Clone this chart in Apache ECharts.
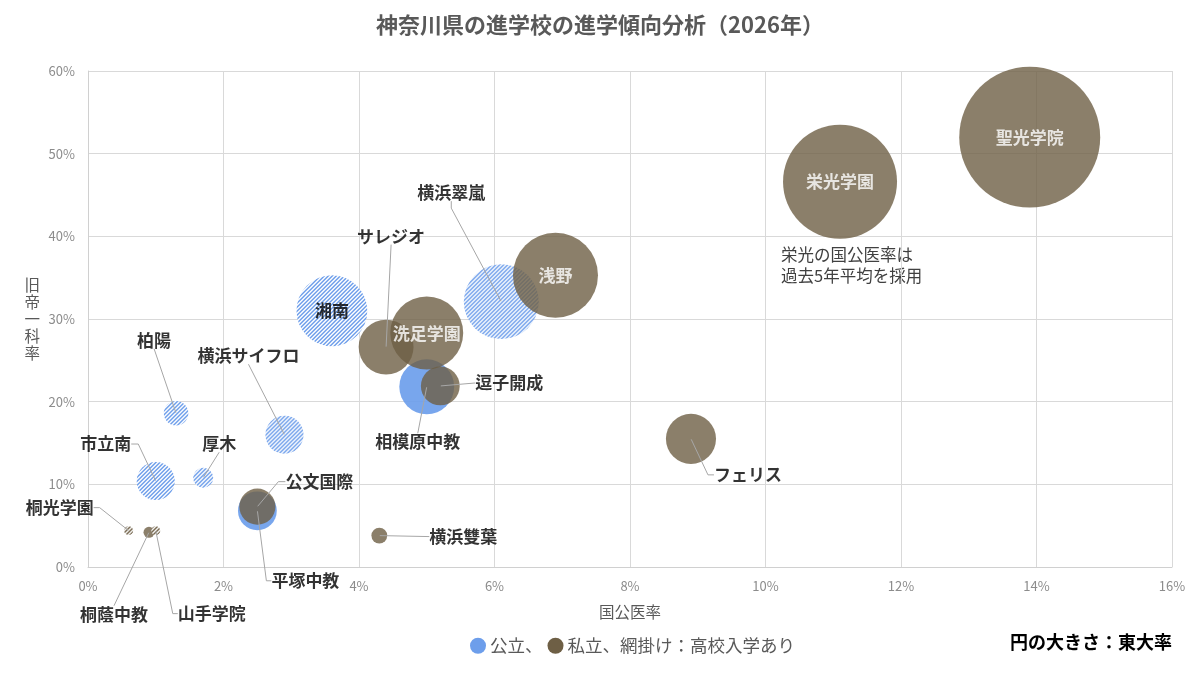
<!DOCTYPE html>
<html lang="ja">
<head>
<meta charset="utf-8">
<title>神奈川県の進学校の進学傾向分析</title>
<script src="https://cdn.jsdelivr.net/npm/echarts@6/dist/echarts.min.js"></script>
<style>
html, body { margin: 0; padding: 0; background: #fff; }
#chart { width: 1200px; height: 675px; }
</style>
</head>
<body>
<div id="chart"></div>
<script>
// 学校ごとのデータ（%）
const schools = ['聖光学院', '栄光学園', '浅野', '横浜翠嵐', '洗足学園', '湘南', 'サレジオ', '相模原中教', '逗子開成', 'フェリス',
    '平塚中教', '公文国際', '市立南', '横浜サイフロ', '柏陽', '厚木', '横浜雙葉', '桐蔭中教', '桐光学園', '山手学院']
const kokkoui = [13.9, 11.1, 6.9, 6.1, 5.0, 3.6, 4.4, 5.0, 5.2, 8.9, 2.5, 2.5, 1.0, 2.9, 1.3, 1.7, 4.3, 0.9, 0.6, 1.0]
const kyutei = [52.0, 46.6, 35.3, 32.1, 28.3, 31.0, 26.6, 21.8, 21.9, 15.5, 6.8, 7.3, 10.4, 16.0, 18.6, 10.8, 3.8, 4.2, 4.4, 4.4]
const todai = [39.6, 25.9, 14.4, 11.2, 10.6, 10.0, 6.0, 6.0, 3.0, 5.0, 3.0, 2.6, 2.9, 2.9, 1.2, 0.8, 0.5, 0.24, 0.16, 0.16]
const setchi = ['私立', '私立', '私立', '公立', '私立', '公立', '私立', '公立', '私立', '私立',
    '公立', '私立', '公立', '公立', '公立', '公立', '私立', '私立', '私立', '私立']
const koukouNyugaku = [false, false, false, true, false, true, false, false, false, false,
    false, false, true, true, true, true, false, false, true, true]
const xTicks = [0, 2, 4, 6, 8, 10, 12, 14, 16]
const yTicks = [0, 10, 20, 30, 40, 50, 60]

const BLUE = '#6d9eeb'
const BROWN = '#6e5f45'
const bubbleSize = v => 22.4 * Math.sqrt(v)

// ラベルの置き場所 [dx, dy, 引き出し線の横棒]
const labelPlace = {
    '聖光学院': { inside: '#fff' },
    '栄光学園': { inside: '#fff' },
    '浅野': { inside: '#fff' },
    '洗足学園': { inside: '#fff' },
    '湘南': { inside: '#000' },
    '横浜翠嵐': { off: [-50, -109], stub: 7 },
    'サレジオ': { off: [5, -111], stub: 0 },
    '相模原中教': { off: [-9, 55], stub: 0 },
    '逗子開成': { off: [69, -3], stub: 0 },
    'フェリス': { off: [57, 36], stub: 6 },
    '平塚中教': { off: [48, 70], stub: 5 },
    '公文国際': { off: [62, -25], stub: 7 },
    '市立南': { off: [-50, -37], stub: 7 },
    '横浜サイフロ': { off: [-36, -79], stub: 0 },
    '柏陽': { off: [-22, -73], stub: 0 },
    '厚木': { off: [16, -34], stub: 0 },
    '横浜雙葉': { off: [84, 1], stub: 0 },
    '桐蔭中教': { off: [-35, 82], stub: 0 },
    '桐光学園': { off: [-69, -23], stub: 6 },
    '山手学院': { off: [56, 83], stub: 5 }
}

const hatchCanvas = color => {
    const c = document.createElement('canvas')
    c.width = 4
    c.height = 4
    const ctx = c.getContext('2d')
    ctx.fillStyle = '#fff'
    ctx.fillRect(0, 0, 4, 4)
    ctx.fillStyle = color
    for (let y = 0; y < 4; y++) {
        for (let x = 0; x < 4; x++) {
            if ((x + y) % 4 < 2) ctx.fillRect(x, y, 1, 1)
        }
    }
    return c
}
const hatchBlue = hatchCanvas(BLUE)
const hatchBrown = hatchCanvas(BROWN)

const bubbleData = type => schools.map((name, i) => {
    if (setchi[i] !== type) return null
    const d = bubbleSize(todai[i])
    const item = { name, value: [kokkoui[i], kyutei[i], todai[i]] }
    if (koukouNyugaku[i]) {
        // シンボルは拡大して描かれるので模様を逆に縮める
        item.itemStyle = {
            color: { image: type === '公立' ? hatchBlue : hatchBrown, repeat: 'repeat', scaleX: 2 / d, scaleY: 2 / d },
            opacity: 1
        }
    }
    return item
}).filter(Boolean)

const labelData = schools.map((name, i) => {
    const p = labelPlace[name]
    return {
        name,
        value: [kokkoui[i], kyutei[i]],
        label: p.inside ? { color: p.inside } : {},
        labelLine: { show: !p.inside, length2: p.stub || 0 }
    }
})

const font = 'Noto Sans CJK JP'
const myChart = echarts.init(document.getElementById('chart'))
const option = {
    animation: false,
    textStyle: { fontFamily: font },
    title: {
        text: '神奈川県の進学校の進学傾向分析（2026年）',
        left: 'center',
        top: 9,
        textStyle: { fontFamily: font, fontSize: 22, fontWeight: 'bold', color: '#595959' }
    },
    legend: {
        left: 465,
        top: 632,
        icon: 'circle',
        itemWidth: 16,
        itemHeight: 16,
        itemGap: 5,
        data: [
            { name: '公立', itemStyle: { color: BLUE, opacity: 1 } },
            { name: '私立', itemStyle: { color: BROWN, opacity: 1 } }
        ],
        formatter: name => name === '公立' ? '公立、' : '私立、網掛け：高校入学あり',
        textStyle: { fontFamily: font, fontSize: 17.5, color: '#595959', padding: [0, 0, 0, -1] }
    },
    grid: { left: 88, right: 28, top: 71, bottom: 108 },
    xAxis: {
        type: 'value',
        min: xTicks[0],
        max: xTicks[xTicks.length - 1],
        interval: xTicks[1] - xTicks[0],
        name: '国公医率',
        nameLocation: 'middle',
        nameGap: 37,
        nameTextStyle: { fontFamily: font, fontSize: 15.5, color: '#595959' },
        axisLine: { show: true, lineStyle: { color: '#d0d0d0' } },
        axisTick: { show: false },
        axisLabel: { formatter: '{value}%', color: '#8c8c8c', fontSize: 13, margin: 13 },
        splitLine: { lineStyle: { color: '#d9d9d9' } }
    },
    yAxis: {
        type: 'value',
        min: yTicks[0],
        max: yTicks[yTicks.length - 1],
        interval: yTicks[1] - yTicks[0],
        name: '旧\n帝\n一\n科\n率',
        nameLocation: 'middle',
        nameRotate: 0,
        nameGap: 48,
        nameTextStyle: { fontFamily: font, fontSize: 15.5, color: '#595959', lineHeight: 17 },
        axisLine: { show: true, lineStyle: { color: '#d0d0d0' } },
        axisTick: { show: false },
        axisLabel: { formatter: '{value}%', color: '#8c8c8c', fontSize: 13, margin: 13 },
        splitLine: { lineStyle: { color: '#d9d9d9' } }
    },
    series: [
        {
            name: '公立',
            type: 'scatter',
            data: bubbleData('公立'),
            symbolSize: v => bubbleSize(v[2]),
            itemStyle: { color: BLUE, opacity: 0.92 },
            emphasis: { disabled: true },
            z: 2
        },
        {
            name: '私立',
            type: 'scatter',
            data: bubbleData('私立'),
            symbolSize: v => bubbleSize(v[2]),
            itemStyle: { color: BROWN, opacity: 0.8 },
            emphasis: { disabled: true },
            z: 3
        },
        {
            name: 'ラベル',
            type: 'scatter',
            data: labelData,
            symbolSize: 1,
            silent: true,
            itemStyle: { color: 'rgba(0,0,0,0)' },
            z: 4,
            label: {
                show: true,
                position: 'inside',
                formatter: '{b}',
                fontFamily: font,
                fontSize: 17,
                fontWeight: 'bold',
                color: '#000'
            },
            labelLine: { show: true, lineStyle: { color: '#a6a6a6', width: 1 } },
            labelLayout: params => {
                const p = labelPlace[schools[params.dataIndex]]
                if (!p || p.inside) return {}
                return { dx: p.off[0], dy: p.off[1] }
            }
        }
    ],
    graphic: [
        {
            type: 'text',
            left: 781,
            top: 244,
            style: {
                text: '栄光の国公医率は\n過去5年平均を採用',
                font: '16.5px "Noto Sans CJK JP"',
                fill: '#404040',
                lineHeight: 21
            }
        },
        {
            type: 'text',
            right: 28,
            top: 633,
            style: {
                text: '円の大きさ：東大率',
                font: 'bold 18px "Noto Sans CJK JP"',
                fill: '#000'
            }
        }
    ]
}
myChart.setOption(option)
</script>
</body>
</html>
